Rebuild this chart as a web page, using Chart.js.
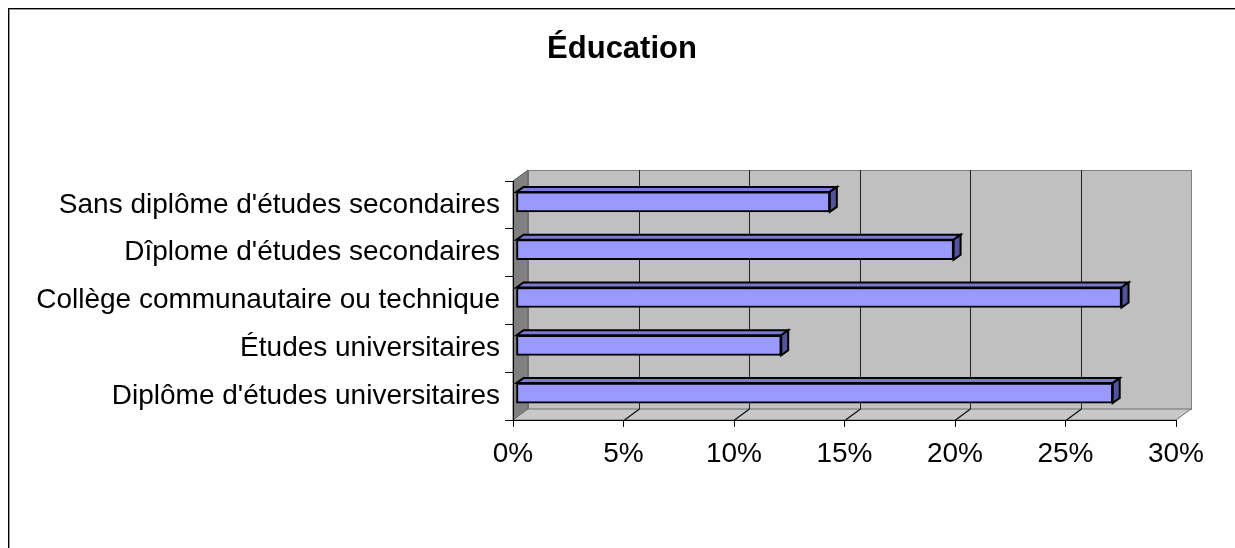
<!DOCTYPE html>
<html lang="fr">
<head>
<meta charset="utf-8">
<title>Éducation</title>
<script src="https://cdn.jsdelivr.net/npm/chart.js@4/dist/chart.umd.min.js"></script>
<style>
  html, body { margin: 0; padding: 0; background: #fff; overflow: hidden; }
  #wrap { position: relative; width: 1235px; height: 548px; }
  #frame {
    position: absolute; left: 8px; top: 8px; width: 1400px; height: 700px;
    border: 1px solid #000; box-shadow: inset 1px 1px 0 #9a9a9a; pointer-events: none;
  }
</style>
</head>
<body>
<div id="wrap">
  <canvas id="eduChart" width="1235" height="548"></canvas>
  <div id="frame"></div>
</div>
<script>
// Data
const categories = [
  "Sans diplôme d'études secondaires",
  "Dîplome d'études secondaires",
  "Collège communautaire ou technique",
  "Études universitaires",
  "Diplôme d'études universitaires"
];
const percentValues = [14.2, 19.8, 27.4, 12.0, 27.0];
const xTickLabels = ['0%', '5%', '10%', '15%', '20%', '25%', '30%'];
const chartTitle = 'Éducation';

const FONT = '"Liberation Sans", Arial, sans-serif';
const DEPTH = { dx: 15, dy: -11 };      // depth of the 3D box
const BAR_SHIFT = { dx: 3, dy: -3 };    // bars sit a bit inside the box
const BAR_DEPTH = { dx: 7, dy: -5 };    // thickness of each bar

// Back wall, side wall, floor and back gridlines
const wallsPlugin = {
  id: 'walls',
  beforeDraw(chart) {
    const { ctx, chartArea, scales } = chart;
    const xs = scales.x;
    const x0 = xs.getPixelForValue(xs.min);
    const x1 = xs.getPixelForValue(xs.max);
    const top = chartArea.top, bottom = chartArea.bottom;
    const { dx, dy } = DEPTH;

    ctx.save();
    ctx.lineWidth = 1;

    // back wall
    ctx.fillStyle = '#c0c0c0';
    ctx.strokeStyle = '#808080';
    ctx.fillRect(x0 + dx, top + dy, x1 - x0, bottom - top);
    ctx.strokeRect(x0 + dx + 0.5, top + dy + 0.5, x1 - x0, bottom - top);

    // side wall
    ctx.beginPath();
    ctx.moveTo(x0, top);
    ctx.lineTo(x0 + dx, top + dy);
    ctx.lineTo(x0 + dx, bottom + dy);
    ctx.lineTo(x0, bottom);
    ctx.closePath();
    ctx.fillStyle = '#808080';
    ctx.fill();
    ctx.strokeStyle = '#606060';
    ctx.stroke();

    // floor
    ctx.beginPath();
    ctx.moveTo(x0, bottom);
    ctx.lineTo(x0 + dx, bottom + dy);
    ctx.lineTo(x1 + dx, bottom + dy);
    ctx.lineTo(x1, bottom);
    ctx.closePath();
    ctx.fillStyle = '#c8c8c8';
    ctx.fill();
    ctx.strokeStyle = '#707070';
    ctx.stroke();

    // gridlines on back wall + floor diagonals
    ctx.strokeStyle = '#222';
    xs.ticks.forEach(t => {
      if (t.value <= xs.min || t.value >= xs.max) return;
      const px = Math.round(xs.getPixelForValue(t.value)) + 0.5;
      ctx.lineWidth = 1;
      ctx.beginPath();
      ctx.moveTo(px + dx, top + dy);
      ctx.lineTo(px + dx, bottom + dy);
      ctx.stroke();
      ctx.lineWidth = 1.3;
      ctx.strokeStyle = '#111';
      ctx.beginPath();
      ctx.moveTo(px, bottom);
      ctx.lineTo(px + dx, bottom + dy);
      ctx.stroke();
      ctx.strokeStyle = '#222';
    });
    ctx.restore();
  },
  afterDraw(chart) {
    const ctx = chart.ctx;
    ctx.save();
    ctx.font = 'bold 31px ' + FONT;
    ctx.fillStyle = '#000';
    ctx.textAlign = 'center';
    ctx.textBaseline = 'alphabetic';
    ctx.fillText(chartTitle, 622, 58);
    ctx.restore();
  }
};

// Shift bars into the box and add their top / side faces
const bar3dPlugin = {
  id: 'bar3d',
  beforeDatasetsDraw(chart) {
    chart.ctx.save();
    chart.ctx.translate(BAR_SHIFT.dx, BAR_SHIFT.dy);
  },
  afterDatasetsDraw(chart) {
    const ctx = chart.ctx;
    const { dx, dy } = BAR_DEPTH;
    ctx.lineWidth = 2;
    ctx.strokeStyle = '#000';
    ctx.lineJoin = 'miter';
    chart.getDatasetMeta(0).data.forEach(bar => {
      const { x, y, base, height } = bar.getProps(['x', 'y', 'base', 'height'], true);
      const yt = y - height / 2, yb = y + height / 2;

      // top face
      ctx.beginPath();
      ctx.moveTo(base, yt);
      ctx.lineTo(base + dx, yt + dy);
      ctx.lineTo(x + dx, yt + dy);
      ctx.lineTo(x, yt);
      ctx.closePath();
      ctx.fillStyle = '#7b7bd6';
      ctx.fill();
      ctx.stroke();

      // side face
      ctx.beginPath();
      ctx.moveTo(x, yt);
      ctx.lineTo(x + dx, yt + dy);
      ctx.lineTo(x + dx, yb + dy);
      ctx.lineTo(x, yb);
      ctx.closePath();
      ctx.fillStyle = '#52529e';
      ctx.fill();
      ctx.stroke();
    });
    ctx.restore();
  }
};

new Chart(document.getElementById('eduChart').getContext('2d'), {
  type: 'bar',
  data: {
    labels: categories,
    datasets: [{
      data: percentValues,
      backgroundColor: '#9999ff',
      borderColor: '#000',
      borderWidth: 2,
      borderSkipped: false,
      barThickness: 20
    }]
  },
  options: {
    indexAxis: 'y',
    responsive: false,
    animation: false,
    devicePixelRatio: 1,
    layout: { padding: { top: 181, right: 59, bottom: 68, left: 0 } },
    plugins: {
      legend: { display: false },
      tooltip: { enabled: false },
      title: { display: false }
    },
    scales: {
      x: {
        min: 0,
        max: 30,
        afterFit(scale) { scale.height = 60; },
        ticks: {
          stepSize: 5,
          color: '#000',
          font: { family: FONT, size: 28 },
          padding: 10,
          maxRotation: 0,
          callback: (v, i) => xTickLabels[i]
        },
        grid: { drawOnChartArea: false, drawTicks: true, tickLength: 7, color: '#000' },
        border: { color: '#000', width: 1 }
      },
      y: {
        afterFit(scale) { scale.width = 513; },
        ticks: {
          color: '#000',
          font: { family: FONT, size: 28 },
          padding: 5
        },
        grid: { drawOnChartArea: false, drawTicks: true, tickLength: 8, color: '#000', offset: true },
        border: { color: '#000', width: 1 }
      }
    }
  },
  plugins: [wallsPlugin, bar3dPlugin]
});
</script>
</body>
</html>
